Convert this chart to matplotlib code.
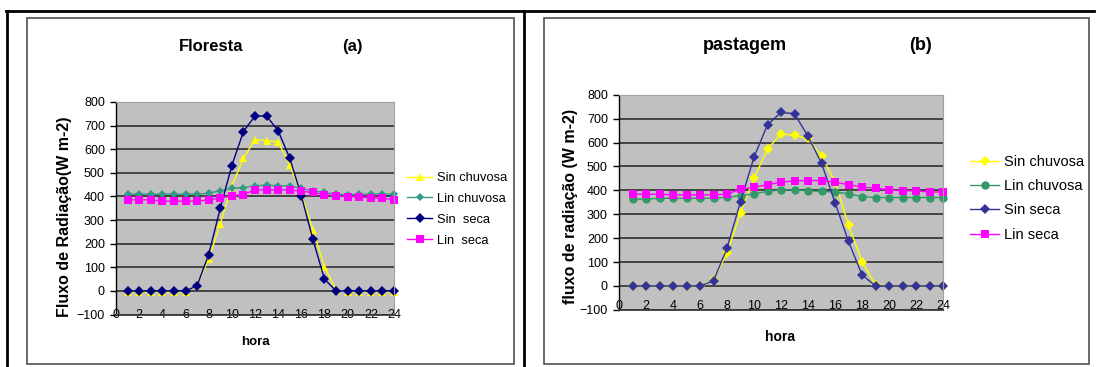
import matplotlib
matplotlib.use('Agg')
import matplotlib.pyplot as plt
from matplotlib.lines import Line2D

plt.rcParams['font.family'] = ['Liberation Sans', 'DejaVu Sans']

W, H = 1098, 367

hours = list(range(1, 25))

# Floresta (a)
flo_sin_chuvosa = [-4, -4, -4, -4, -4, -4, 25, 134, 284, 445, 561, 641,
                   636, 631, 533, 410, 260, 102, 4, -4, -4, -4, -4, -4]
flo_lin_chuvosa = [410, 410, 410, 410, 410, 410, 410, 414, 424, 434, 438, 445,
                   448, 445, 445, 434, 424, 417, 410, 407, 410, 410, 410, 410]
flo_sin_seca = [0, 0, 0, 0, 0, 0, 22, 154, 350, 531, 675, 741,
                741, 678, 562, 403, 218, 50, 0, 0, 0, 0, 0, 0]
flo_lin_seca = [386, 386, 386, 380, 380, 380, 380, 386, 393, 403, 408, 428,
                428, 428, 428, 422, 417, 408, 403, 399, 399, 393, 393, 386]

# pastagem (b)
pas_sin_chuvosa = [0, 0, 0, 0, 0, 0, 25, 137, 307, 451, 572, 637,
                   630, 618, 542, 437, 255, 102, 4, 0, 0, 0, 0, 0]
pas_lin_chuvosa = [363, 363, 367, 367, 367, 367, 367, 371, 378, 385, 396, 402,
                   402, 398, 396, 393, 386, 374, 370, 370, 370, 370, 370, 370]
pas_sin_seca = [0, 0, 0, 0, 0, 0, 21, 158, 353, 539, 675, 726,
                721, 626, 514, 349, 186, 46, 0, 0, 0, 0, 0, 0]
pas_lin_seca = [384, 384, 384, 381, 381, 381, 381, 384, 405, 413, 424, 434,
                440, 441, 441, 434, 424, 414, 409, 402, 398, 398, 393, 393]

labels_a = ['Sin chuvosa', 'Lin chuvosa', 'Sin  seca', 'Lin  seca']
labels_b = ['Sin chuvosa', 'Lin chuvosa', 'Sin seca', 'Lin seca']

x_ticks = list(range(0, 25, 2))
y_ticks = list(range(-100, 900, 100))


def fx(px):
    return px / W


def fy(py):
    return 1 - py / H


def make_axes(fig, left, top, right, bottom):
    ax = fig.add_axes([fx(left), fy(bottom), fx(right - left), (bottom - top) / H])
    ax.set_facecolor('#c0c0c0')
    ax.set_xlim(0, 24)
    ax.set_ylim(-100, 800)
    ax.set_xticks(x_ticks)
    ax.set_yticks(y_ticks)
    ax.yaxis.grid(True, color='#3a3a3a', linewidth=1.3)
    ax.set_axisbelow(True)
    for side in ['top', 'right']:
        ax.spines[side].set_color('#a0a0a0')
        ax.spines[side].set_linewidth(0.8)
    ax.spines['left'].set_color('black')
    ax.spines['left'].set_linewidth(1.0)
    ax.spines['bottom'].set_color('#3a3a3a')
    ax.spines['bottom'].set_linewidth(1.3)
    ax.tick_params(axis='y', length=4, width=1.0, pad=4, labelsize=9)
    return ax


def plot_series(ax, series, styles):
    handles = []
    for ys, (color, marker, ms) in zip(series, styles):
        h, = ax.plot(hours, ys, color=color, marker=marker, markersize=ms,
                     linewidth=1.0, markeredgewidth=0, clip_on=False)
        handles.append(h)
    return handles


fig = plt.figure(figsize=(W / 100, H / 100), dpi=100)

# table lines around the two panels
fig.add_artist(Line2D([fx(6), fx(1094)], [fy(11), fy(11)], color='black', linewidth=2.0))
fig.add_artist(Line2D([fx(7), fx(7)], [fy(11), fy(367)], color='black', linewidth=2.0))
fig.add_artist(Line2D([fx(524), fx(524)], [fy(11), fy(367)], color='black', linewidth=2.0))

# chart frames
for l, r in [(27, 514), (544, 1089)]:
    fig.add_artist(plt.Rectangle((fx(l), fy(364)), fx(r - l), (364 - 18) / H,
                                 transform=fig.transFigure, fill=False,
                                 edgecolor='#505050', linewidth=1.2))

# (a) Floresta
ax1 = make_axes(fig, 116, 102, 394, 314.6)
ax1.tick_params(axis='x', length=0, pad=-4.3, labelsize=9)
h1 = plot_series(ax1, [flo_sin_chuvosa, flo_lin_chuvosa, flo_sin_seca, flo_lin_seca],
                 [('#ffff00', '^', 6), ('#339988', 'D', 4.5),
                  ('#000080', 'D', 5), ('#ff00ff', 's', 5.5)])
ax1.legend(h1, labels_a, loc='upper left', bbox_to_anchor=(fx(407), fy(172)),
           bbox_transform=fig.transFigure, frameon=False, borderpad=0,
           borderaxespad=0, handlelength=1.95, handletextpad=0.4,
           labelspacing=0.68, fontsize=9.3)
fig.text(fx(211), fy(51), 'Floresta', ha='center', va='baseline',
         fontsize=12, fontweight='bold')
fig.text(fx(352.5), fy(51), '(a)', ha='center', va='baseline',
         fontsize=12, fontweight='bold')
fig.text(fx(65), fy(217), 'Fluxo de Radiação(W m-2)', rotation=90,
         ha='center', va='center', fontsize=11.5, fontweight='bold')
fig.text(fx(255), fy(342), 'hora', ha='center', va='center',
         fontsize=9.5, fontweight='bold')

# (b) pastagem
ax2 = make_axes(fig, 619, 94.8, 943, 309.8)
ax2.tick_params(axis='x', length=0, pad=-7.4, labelsize=9)
h2 = plot_series(ax2, [pas_sin_chuvosa, pas_lin_chuvosa, pas_sin_seca, pas_lin_seca],
                 [('#ffff00', 'D', 5.5), ('#339966', 'o', 6),
                  ('#333399', 'D', 5.5), ('#ff00ff', 's', 6)])
ax2.legend(h2, labels_b, loc='upper left', bbox_to_anchor=(fx(970), fy(155)),
           bbox_transform=fig.transFigure, frameon=False, borderpad=0,
           borderaxespad=0, handlelength=2.0, handletextpad=0.3,
           labelspacing=0.7, fontsize=10.5)
fig.text(fx(745), fy(50), 'pastagem', ha='center', va='baseline',
         fontsize=13, fontweight='bold')
fig.text(fx(921), fy(50), '(b)', ha='center', va='baseline',
         fontsize=13, fontweight='bold')
fig.text(fx(570), fy(206), 'fluxo de radiação (W m-2)', rotation=90,
         ha='center', va='center', fontsize=11.5, fontweight='bold')
fig.text(fx(780), fy(337), 'hora', ha='center', va='center',
         fontsize=10, fontweight='bold')

fig.savefig('out.png', dpi=100, facecolor='white')
